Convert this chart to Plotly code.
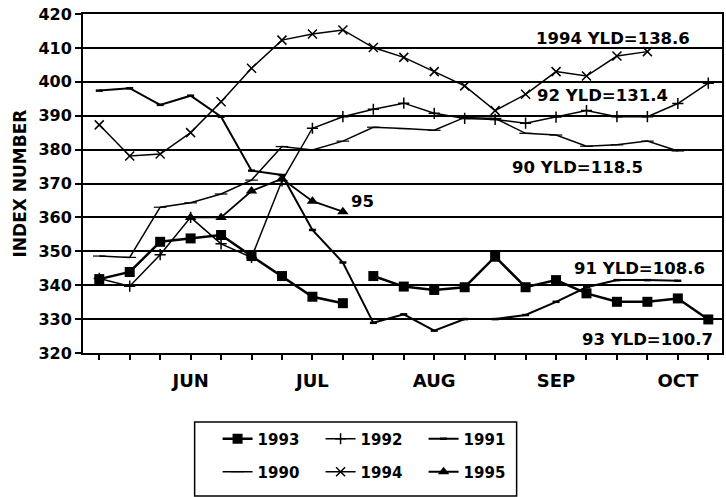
import plotly.graph_objects as go

weeks = list(range(1, 22))
month_ticktext = ["", "", "", "JUN", "", "", "", "JUL", "", "", "", "AUG",
                  "", "", "", "SEP", "", "", "", "OCT", ""]

y1993 = [341.8, 343.9, 352.8, 353.8, 354.8, 348.6, 342.7, 336.6, 334.7,
         342.7, 339.6, 338.6, 339.4, 348.4, 339.4, 341.5, 337.6, 335.1, 335.1, 336.1, 329.9]
gap1993_after_week = 9
y1992 = [342.0, 339.7, 349.0, 360.0, 352.2, 348.2, 370.8, 386.3, 389.7, 391.9,
         393.7, 390.7, 389.2, 388.9, 387.8, 389.6, 391.5, 389.7, 389.7, 393.6, 399.6]
y1991 = [397.4, 398.1, 393.2, 395.9, 389.7, 373.8, 372.5, 356.3, 346.7, 328.9,
         331.4, 326.6, 330.0, 330.0, 331.2, 335.1, 339.4, 341.5, 341.5, 341.3]
y1990 = [348.6, 348.2, 363.0, 364.3, 366.9, 371.0, 380.9, 379.9, 382.5, 386.6,
         386.2, 385.7, 389.5, 389.2, 384.8, 384.3, 381.0, 381.4, 382.5, 379.6]
y1994 = [387.3, 378.1, 378.7, 385.0, 394.1, 404.0, 412.3, 414.1, 415.3, 410.1,
         407.2, 403.0, 398.8, 391.5, 396.3, 403.0, 401.7, 407.6, 408.9]
weeks1995 = [4, 5, 6, 7, 8, 9]
y1995 = [360.0, 360.0, 367.8, 371.4, 364.8, 361.7]

labels = ["1994 YLD=138.6", "92 YLD=131.4", "90 YLD=118.5", "95", "91 YLD=108.6", "93 YLD=100.7"]
label_x = [15.27, 15.32, 14.5, 9.19, 16.53, 16.8]
label_y = [412.8, 395.9, 374.7, 364.6, 344.8, 324.1]

FONT = "DejaVu Sans"
BLACK = "black"

fig = go.Figure()

# 1993 with a break in the line
x93 = weeks[:gap1993_after_week] + [None] + weeks[gap1993_after_week:]
y93 = y1993[:gap1993_after_week] + [None] + y1993[gap1993_after_week:]
fig.add_trace(go.Scatter(x=x93, y=y93, name="1993", mode="lines+markers",
                         line=dict(color=BLACK, width=2.5),
                         marker=dict(symbol="square", size=10, color=BLACK),
                         connectgaps=False, legend="legend"))
fig.add_trace(go.Scatter(x=weeks[:len(y1992)], y=y1992, name="1992", mode="lines+markers",
                         line=dict(color=BLACK, width=1.5),
                         marker=dict(symbol="cross-thin-open", size=8,
                                     line=dict(color=BLACK, width=1.5)),
                         legend="legend"))
fig.add_trace(go.Scatter(x=weeks[:len(y1991)], y=y1991, name="1991", mode="lines+markers",
                         line=dict(color=BLACK, width=2),
                         marker=dict(symbol="line-ew-open", size=5,
                                     line=dict(color=BLACK, width=2.5)),
                         legend="legend"))
fig.add_trace(go.Scatter(x=weeks[:len(y1990)], y=y1990, name="1990", mode="lines+markers",
                         line=dict(color=BLACK, width=1.5),
                         marker=dict(symbol="line-ew-open", size=9,
                                     line=dict(color=BLACK, width=1.2)),
                         legend="legend2"))
fig.add_trace(go.Scatter(x=weeks[:len(y1994)], y=y1994, name="1994", mode="lines+markers",
                         line=dict(color=BLACK, width=1.5),
                         marker=dict(symbol="x-thin-open", size=9,
                                     line=dict(color=BLACK, width=1.5)),
                         legend="legend2"))
fig.add_trace(go.Scatter(x=weeks1995, y=y1995, name="1995", mode="lines+markers",
                         line=dict(color=BLACK, width=1.8),
                         marker=dict(symbol="triangle-up", size=10, color=BLACK),
                         legend="legend2"))

for t, xx, yy in zip(labels, label_x, label_y):
    fig.add_annotation(x=xx, y=yy, text=t, showarrow=False, xanchor="left", yanchor="middle",
                       font=dict(family=FONT, size=16.5, color=BLACK, weight="bold"))

# legend frame
fig.add_shape(type="rect", xref="paper", yref="paper",
              x0=0.1747, x1=0.6786, y0=-0.4218, y1=-0.2035,
              line=dict(color=BLACK, width=1.5), fillcolor="rgba(0,0,0,0)")

leg_common = dict(orientation="h", xanchor="left", yanchor="middle",
                  entrywidth=58, entrywidthmode="pixels",
                  bgcolor="rgba(0,0,0,0)", borderwidth=0,
                  font=dict(family=FONT, size=15, color=BLACK, weight="bold"))

fig.update_layout(
    width=726, height=497,
    margin=dict(l=83, r=2, t=14, b=144),
    paper_bgcolor="white", plot_bgcolor="white",
    font=dict(family=FONT, color=BLACK, weight="bold"),
    showlegend=True,
    legend=dict(x=0.2106, y=-0.2537, **leg_common),
    legend2=dict(x=0.2106, y=-0.351, **leg_common),
    xaxis=dict(range=[0.466, 21.45], tickvals=weeks, ticktext=month_ticktext,
               ticks="outside", ticklen=5, tickwidth=1.5, tickcolor=BLACK,
               showline=True, linecolor=BLACK, linewidth=2, mirror=True,
               showgrid=False, zeroline=False, ticklabelstandoff=5,
               tickfont=dict(family=FONT, size=18, color=BLACK, weight="bold")),
    yaxis=dict(range=[320, 420], dtick=10, tick0=320,
               ticks="outside", ticklen=6, tickwidth=1.5, tickcolor=BLACK,
               showline=True, linecolor=BLACK, linewidth=2, mirror=True,
               showgrid=True, gridcolor=BLACK, gridwidth=1.5, zeroline=False,
               tickfont=dict(family=FONT, size=16, color=BLACK, weight="bold"),
               title=dict(text="INDEX NUMBER", standoff=7,
                          font=dict(family=FONT, size=17, color=BLACK, weight="bold"))),
)

fig.write_html("out.html", config={"displayModeBar": False},
               post_script="document.body.style.margin='0px';")
